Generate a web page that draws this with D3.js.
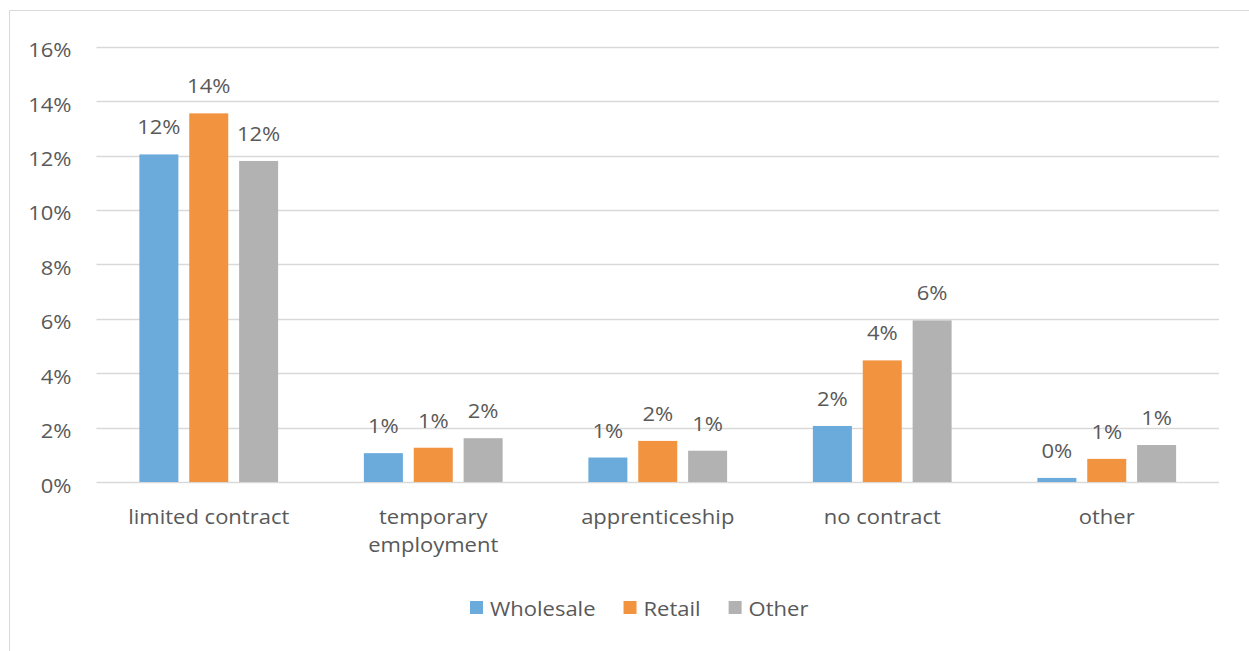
<!DOCTYPE html>
<html>
<head>
<meta charset="utf-8">
<script src="https://cdn.jsdelivr.net/npm/d3@7"></script>
<style>
  html, body { margin: 0; padding: 0; background: #fff; }
  svg { display: block; }
  text { font-family: "Open Sans", sans-serif; fill: #595959; }
</style>
</head>
<body>
<svg id="chart" width="1249" height="651"></svg>
<script>
const categories = ["limited contract", "temporary employment", "apprenticeship", "no contract", "other"];
const categoryLines = [["limited contract"], ["temporary", "employment"], ["apprenticeship"], ["no contract"], ["other"]];
const seriesNames = ["Wholesale", "Retail", "Other"];
const wholesale = [0.1204, 0.0106, 0.0090, 0.0206, 0.0015];
const retail    = [0.1355, 0.0126, 0.0151, 0.0447, 0.0085];
const other     = [0.1180, 0.0161, 0.0115, 0.0594, 0.0136];
const yTicks = [0, 0.02, 0.04, 0.06, 0.08, 0.10, 0.12, 0.14, 0.16];
const colors = ["#6aabdc", "#f29340", "#b2b2b2"];

(function () {
const seriesValues = [wholesale, retail, other];
const SX = 1.1; // horizontal glyph stretch
const FS = 20;

const svg = d3.select("#chart");

// chart border (top and left edges visible)
svg.append("line").attr("x1", 9.5).attr("x2", 1249).attr("y1", 10.5).attr("y2", 10.5)
  .attr("stroke", "#d9d9d9").attr("stroke-width", 1);
svg.append("line").attr("x1", 9.5).attr("x2", 9.5).attr("y1", 10.5).attr("y2", 651)
  .attr("stroke", "#d9d9d9").attr("stroke-width", 1);

const pLeft = 96.5, pRight = 1219, pTop = 46.7, pBottom = 482;

const y = d3.scaleLinear().domain([0, 0.16]).range([pBottom, pTop]);
const x0 = d3.scaleBand().domain(categories).range([pLeft, pRight])
  .paddingInner(0.382).paddingOuter(0.191);
const x1 = d3.scaleBand().domain(seriesNames).range([0, x0.bandwidth()])
  .paddingInner(0.218).paddingOuter(0);

function stretchedText(g, x, yy, str, anchor) {
  return g.append("text")
    .attr("transform", `translate(${x},${yy}) scale(${SX},1)`)
    .attr("text-anchor", anchor)
    .style("font-size", FS + "px")
    .text(str);
}

// gridlines
const grid = svg.append("g");
grid.selectAll("line").data(yTicks).join("line")
  .attr("x1", pLeft).attr("x2", pRight)
  .attr("y1", d => Math.round(y(d)) + 0.5).attr("y2", d => Math.round(y(d)) + 0.5)
  .attr("stroke", "#d9d9d9").attr("stroke-width", 1.5);

// y tick labels
const fmt = d3.format(".0%");
const yl = svg.append("g");
yTicks.forEach(t => stretchedText(yl, 71.5, y(t) + 10.5, fmt(t), "end"));

// bars
const data = categories.map((c, i) => ({ c, vals: seriesNames.map((s, j) => ({ s, j, v: seriesValues[j][i] })) }));
const groups = svg.append("g").selectAll("g").data(data).join("g")
  .attr("transform", d => `translate(${x0(d.c)},0)`);
groups.selectAll("rect").data(d => d.vals).join("rect")
  .attr("x", d => x1(d.s))
  .attr("width", x1.bandwidth())
  .attr("y", d => y(d.v))
  .attr("height", d => y(0) - y(d.v))
  .attr("fill", d => colors[d.j]);

// data labels
groups.each(function(d) {
  const g = d3.select(this);
  d.vals.forEach(v => stretchedText(g, x1(v.s) + x1.bandwidth() / 2, y(v.v) - 20, fmt(v.v), "middle"));
});

// category labels
const xl = svg.append("g");
categories.forEach((c, i) => {
  const cx = x0(c) + x0.bandwidth() / 2;
  categoryLines[i].forEach((line, k) => stretchedText(xl, cx, 524 + k * 28, line, "middle"));
});

// legend
const leg = svg.append("g");
let lx = 470;
seriesNames.forEach((s, j) => {
  leg.append("rect").attr("x", lx).attr("y", 601).attr("width", 13).attr("height", 13).attr("fill", colors[j]);
  const t = stretchedText(leg, lx + 20, 615.5, s, "start");
  const w = t.node().getComputedTextLength() * SX;
  lx += 20 + w + 28;
});
})();
</script>
</body>
</html>
